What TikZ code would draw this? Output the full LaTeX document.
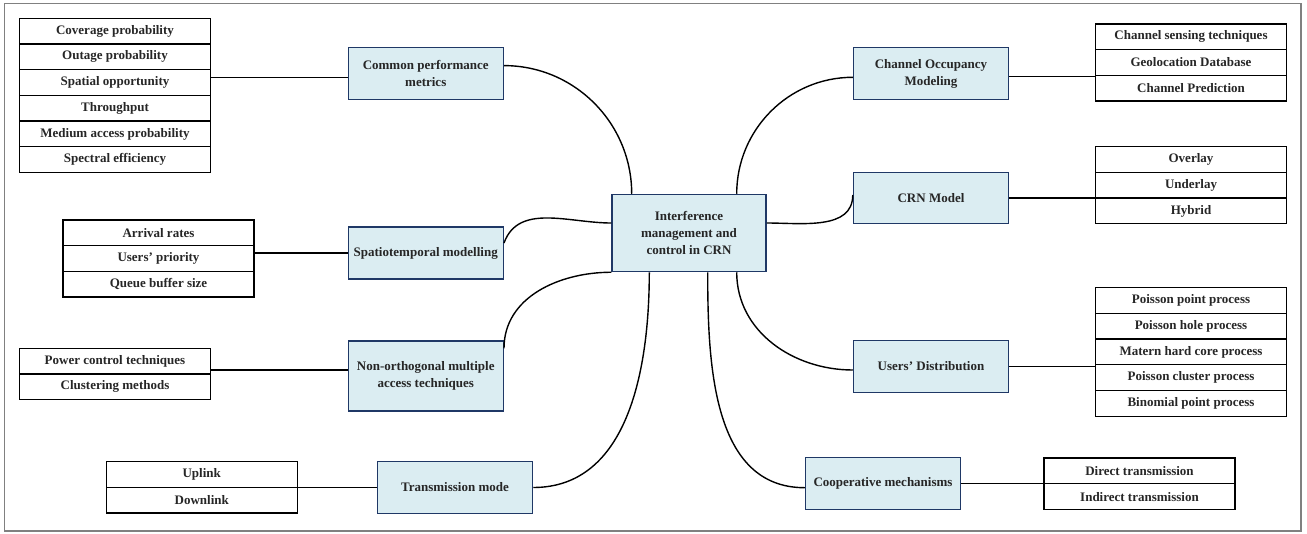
\documentclass[tikz,border=0pt]{standalone}
\usepackage{fontspec}
\setmainfont{Liberation Serif}
\definecolor{HubClr}{rgb}{0.86,0.93,0.95}
\definecolor{HubLineClr}{rgb}{0.12,0.22,0.40}
\definecolor{FrameClr}{rgb}{0.5,0.5,0.5}
\definecolor{TextClr}{rgb}{0.15,0.15,0.15}
\tikzset{
  hub/.style={draw=HubLineClr,fill=HubClr,line width=1.5pt,minimum width=155,minimum height=52,
    align=center,inner sep=2pt,text=TextClr,font=\bfseries\fontsize{13}{17}\selectfont},
  item/.style={draw=black,line width=1.3pt,minimum width=191,minimum height=25.7,
    inner sep=0pt,text=TextClr,font=\bfseries\fontsize{13}{17}\selectfont},
  link/.style={line width=1.4pt}
}

\begin{document}
\begin{tikzpicture}[x=1pt,y=-1pt]
\useasboundingbox (0,0) rectangle (1307,533);
\draw[FrameClr,line width=1.2pt] (4.5,3.5) rectangle (1301,531);

\node[hub,minimum width=154,minimum height=77] (ctr) at (689,233) {Interference\\management and\\control in CRN};

\node[hub] (cpm) at (425.75,73.6) {Common performance\\metrics};
\node[hub] (spm) at (425.75,253) {Spatiotemporal modelling};
\node[hub,minimum height=70] (noma) at (425.75,376) {Non-orthogonal multiple\\access techniques};
\node[hub] (tmode) at (455,487.5) {Transmission mode};
\node[hub] (com) at (931,73.6) {Channel Occupancy\\Modeling};
\node[hub,minimum height=51] (crn) at (931,198) {CRN Model};
\node[hub] (ud) at (931,366.5) {Users’ Distribution};
\node[hub] (coop) at (883,483.7) {Cooperative mechanisms};

\foreach \t [count=\i] in {Coverage probability,Outage probability,Spatial opportunity,Throughput,Medium access probability,Spectral efficiency}
  \node[item] (met\i) at (115,5.45+25.7*\i) {\t};
\foreach \t [count=\i] in {Arrival rates,Users’ priority,Queue buffer size}
  \node[item] (arr\i) at (158.5,207.15+25.7*\i) {\t};
\foreach \t [count=\i] in {Power control techniques,Clustering methods}
  \node[item] (pow\i) at (115,335.45+25.7*\i) {\t};
\foreach \t [count=\i] in {Uplink,Downlink}
  \node[item] (up\i) at (201.75,448.85+25.7*\i) {\t};
\foreach \t [count=\i] in {Channel sensing techniques,Geolocation Database,Channel Prediction}
  \node[item] (ch\i) at (1191,11.15+25.7*\i) {\t};
\foreach \t [count=\i] in {Overlay,Underlay,Hybrid}
  \node[item] (ov\i) at (1191,133.85+25.7*\i) {\t};
\foreach \t [count=\i] in {Poisson point process,Poisson hole process,Matern hard core process,Poisson cluster process,Binomial point process}
  \node[item] (po\i) at (1191,274.85+25.7*\i) {\t};
\foreach \t [count=\i] in {Direct transmission,Indirect transmission}
  \node[item] (dir\i) at (1139.5,445.15+25.7*\i) {\t};

\draw[link] ([yshift=-4pt]cpm.west) -- ([yshift=-4pt]cpm.west -| met3.east);
\draw[link] (spm.west) -- (spm.west -| arr2.east);
\draw[link] ([yshift=6pt]noma.west) -- ([yshift=6pt]noma.west -| pow1.east);
\draw[link] (tmode.west) -- (tmode.west -| up1.east);
\draw[link] ([yshift=-3pt]com.east) -- ([yshift=-3pt]com.east -| ch1.west);
\draw[link] (crn.east) -- (crn.east -| ov1.west);
\draw[link] (ud.east) -- (ud.east -| po1.west);
\draw[link] (coop.east) -- (coop.east -| dir1.west);

\draw[link] ([yshift=8pt]cpm.east) to[out=0,in=90] ([xshift=-57.3pt]ctr.north);
\draw[link] ([yshift=10pt]spm.east) to[out=70,in=180] ([yshift=10pt]ctr.west);
\draw[link] ([yshift=-8pt]noma.north east) to[out=90,in=180] (ctr.south west);
\draw[link] (tmode.east) to[out=0,in=-90] ([xshift=-39.7pt]ctr.south);
\draw[link] ([xshift=47.7pt]ctr.north) to[out=90,in=180] ([yshift=-3.7pt]com.west);
\draw[link] ([yshift=10pt]ctr.east) to[out=0,in=-90] ([yshift=3pt]crn.west);
\draw[link] ([xshift=47.7pt]ctr.south) to[out=-90,in=180] ([yshift=-3.5pt]ud.west);
\draw[link] ([xshift=18.7pt]ctr.south) to[out=-90,in=180] ([yshift=-4pt]coop.west);
\end{tikzpicture}
\end{document}
